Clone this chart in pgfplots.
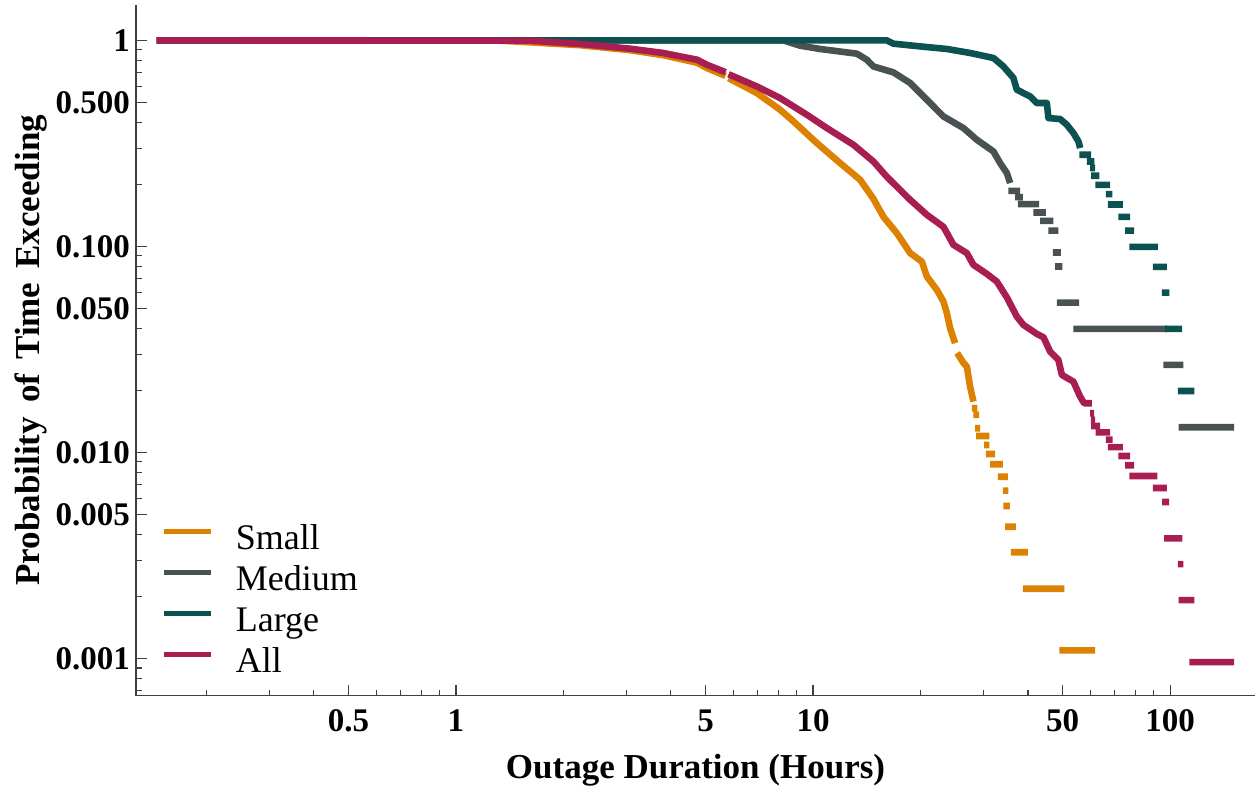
\documentclass[border=0pt]{standalone}
\usepackage{fontspec}
\setmainfont{Liberation Serif}
\usepackage{pgfplots}
\pgfplotsset{compat=1.18}

\definecolor{cSmall}{RGB}{220,129,0}
\definecolor{cMedium}{RGB}{72,82,82}
\definecolor{cLarge}{RGB}{12,82,80}
\definecolor{cAll}{RGB}{168,30,82}

\begin{document}
\begin{tikzpicture}
\useasboundingbox (-136pt,-96.3pt) rectangle (1121pt,695.7pt);
\begin{axis}[
  at={(0pt,0pt)}, anchor=south west,
  scale only axis, width=1119pt, height=691pt,
  xmode=log, ymode=log,
  xmin=0.127, xmax=173, ymin=0.00066, ymax=1.49,
  axis x line*=bottom, axis y line*=left,
  axis line style={line width=1.3pt, color=black!75},
  tick style={line width=1.1pt, color=black!75},
  tick align=inside,
  major tick length=11pt, minor tick length=6pt,
  xtick={0.5,1,5,10,50,100},
  xticklabels={0.5,1,5,10,50,100},
  minor xtick={0.2,0.3,0.4,0.6,0.7,0.8,0.9,2,3,4,6,7,8,9,20,30,40,60,70,80,90},
  ytick={0.001,0.005,0.01,0.05,0.1,0.5,1},
  yticklabels={0.001,0.005,0.010,0.050,0.100,0.500,1},
  minor ytick={0.0007,0.0008,0.0009,0.002,0.003,0.004,0.006,0.007,0.008,0.009,0.02,0.03,0.04,0.06,0.07,0.08,0.09,0.2,0.3,0.4,0.6,0.7,0.8,0.9},
  /pgf/number format/assume math mode=true,
  ticklabel style={font=\fontsize{33}{33}\selectfont\bfseries},
  xticklabel style={anchor=base, inner sep=0pt, yshift=-36pt},
  yticklabel style={anchor=east, inner sep=0pt, xshift=-6pt},
  xlabel={Outage Duration (Hours)},
  ylabel={Probability\hspace{0.4em}of\hspace{0.4em}Time\hspace{0.4em}Exceeding},
  label style={font=\fontsize{35}{35}\selectfont\bfseries},
  xlabel style={at={(axis description cs:0.5,-0.1191)}, anchor=base, inner sep=0pt},
  ylabel style={at={(axis description cs:-0.0858,0.5)}, anchor=base, inner sep=0pt},
  unbounded coords=jump,
  every axis plot/.append style={line width=6.6pt, line cap=butt, line join=round, mark=none},
  legend style={draw=none, fill=none, inner sep=0pt, outer sep=0pt,
    at={(axis description cs:0.0230,0.2495)}, anchor=north west,
    font=\fontsize{36}{36}\selectfont, row sep=8pt,
    nodes={inner sep=0pt, text height=26pt, text depth=7pt}},
  legend cell align=left,
  legend image code/.code={\draw[#1, line width=5.5pt] (0pt,8.5pt) -- (47pt,8.5pt); \path (68pt,8.5pt);},
]

% Small outages
\addplot[color=cSmall] coordinates {
 (0.145,1) (1.33,0.997) (2.227,0.9477) (3.074,0.8961) (3.803,0.8475)
 (4.736,0.7789) (5.041,0.7345) (5.69,0.6725) (nan,nan)
 (5.801,0.6555) (6.961,0.5553) (8.087,0.4607) (8.813,0.4043) (10.25,0.3175)
 (11.91,0.2538) (13.55,0.2107) (14.76,0.1703) (15.75,0.1392) (17.17,0.1160)
 (18.71,0.09278) (20.17,0.08449) (20.84,0.07142) (22.23,0.06152) (23.19,0.05399)
 (23.71,0.04743) (24.21,0.04009) (25.00,0.03392) (nan,nan)
 (25.33,0.03041) (26.38,0.02720) (26.97,0.02610) (27.54,0.02088) (28.14,0.01765) (nan,nan)
 (27.85,0.01639) (28.87,0.01639) (nan,nan)
 (28.14,0.01521) (29.19,0.01521) (nan,nan)
 (28.45,0.01311) (29.38,0.01311) (nan,nan)
 (28.64,0.01202) (31.20,0.01202) (nan,nan)
 (30.15,0.01087) (31.20,0.01087) (nan,nan)
 (30.48,0.009833) (32.36,0.009833) (nan,nan)
 (31.34,0.008764) (34.01,0.008764) (nan,nan)
 (32.94,0.007627) (35.13,0.007627) (nan,nan)
 (34.01,0.006524) (35.27,0.006524) (nan,nan)
 (34.14,0.005497) (35.59,0.005497) (nan,nan)
 (34.52,0.004360) (36.98,0.004360) (nan,nan)
 (35.83,0.003280) (39.97,0.003280) (nan,nan)
 (38.70,0.002181) (50.60,0.002181) (nan,nan)
 (48.99,0.001095) (61.68,0.001095)
};
\addlegendentry{Small}

% Medium outages
\addplot[color=cMedium] coordinates {
 (0.145,1) (8.262,1) (9.203,0.9425) (10.47,0.9083) (13.27,0.8619) (14.15,0.8056)
 (14.76,0.7474) (16.80,0.6993) (18.71,0.6211) (20.84,0.5152) (23.19,0.4274)
 (26.38,0.3755) (28.76,0.3294) (32.02,0.2890) (33.43,0.2538) (34.91,0.2270)
 (35.66,0.2030) (nan,nan)
 (35.27,0.1862) (38.03,0.1862) (nan,nan)
 (36.83,0.1735) (38.70,0.1735) (nan,nan)
 (37.48,0.1605) (42.98,0.1605) (nan,nan)
 (41.43,0.1461) (44.88,0.1461) (nan,nan)
 (43.26,0.1331) (47.14,0.1331) (nan,nan)
 (45.64,0.1194) (48.67,0.1194) (nan,nan)
 (46.96,0.09341) (49.43,0.09341) (nan,nan)
 (47.66,0.07988) (49.95,0.07988) (nan,nan)
 (48.18,0.05339) (55.65,0.05339) (nan,nan)
 (53.63,0.03980) (97.95,0.03980) (nan,nan)
 (95.83,0.02661) (109.0,0.02661) (nan,nan)
 (105.6,0.01326) (151.2,0.01326)
};
\addlegendentry{Medium}

% Large outages
\addplot[color=cLarge] coordinates {
 (0.145,1) (16.10,1) (16.80,0.9638) (19.95,0.9351) (23.71,0.9083) (27.54,0.8687)
 (32.02,0.8214) (34.14,0.7474) (36.42,0.6569) (37.23,0.5762) (40.56,0.5346)
 (42.36,0.4966) (45.17,0.4966) (45.64,0.4198) (49.21,0.4152) (51.38,0.3896)
 (53.63,0.3550) (55.39,0.3232) (56.00,0.3002) (nan,nan)
 (55.74,0.2785) (60.12,0.2785) (nan,nan)
 (58.47,0.2584) (61.40,0.2584) (nan,nan)
 (59.74,0.2401) (61.68,0.2401) (nan,nan)
 (60.12,0.2203) (63.41,0.2203) (nan,nan)
 (61.80,0.1991) (67.97,0.1991) (nan,nan)
 (66.11,0.1795) (68.98,0.1795) (nan,nan)
 (66.97,0.1598) (73.77,0.1598) (nan,nan)
 (71.71,0.1392) (77.31,0.1392) (nan,nan)
 (74.86,0.1194) (79.33,0.1194) (nan,nan)
 (76.97,0.09956) (92.43,0.09956) (nan,nan)
 (89.49,0.07961) (97.95,0.07961) (nan,nan)
 (94.84,0.05971) (99.61,0.05971) (nan,nan)
 (96.90,0.03980) (108.1,0.03980) (nan,nan)
 (105.1,0.01989) (117.0,0.01989)
};
\addlegendentry{Large}

% All outages
\addplot[color=cAll] coordinates {
 (0.145,1) (1.613,0.9966) (2.227,0.9605) (3.074,0.9113) (3.803,0.8687)
 (4.736,0.8056) (5.041,0.7620) (5.69,0.7006) (nan,nan)
 (5.801,0.6850) (6.961,0.5977) (8.087,0.5251) (9.609,0.4356) (10.93,0.3755)
 (12.98,0.3114) (14.76,0.2584) (16.10,0.2178) (18.71,0.1684) (20.84,0.1424)
 (23.19,0.1245) (24.74,0.1018) (26.97,0.09278) (28.14,0.08138) (30.68,0.07359)
 (32.72,0.06753) (34.91,0.05660) (37.23,0.04566) (38.85,0.04161) (42.36,0.03763)
 (44.20,0.03627) (46.15,0.03086) (48.67,0.02813) (49.77,0.02379) (53.63,0.02207)
 (56.00,0.01866) (57.46,0.01734) (60.39,0.01734) (nan,nan)
 (59.74,0.01550) (61.29,0.01550) (nan,nan)
 (60.00,0.01438) (61.68,0.01438) (nan,nan)
 (60.12,0.01345) (63.70,0.01345) (nan,nan)
 (61.88,0.01251) (67.97,0.01251) (nan,nan)
 (66.11,0.01154) (69.07,0.01154) (nan,nan)
 (66.97,0.01061) (73.77,0.01061) (nan,nan)
 (71.71,0.009616) (77.31,0.009616) (nan,nan)
 (74.86,0.008667) (79.33,0.008667) (nan,nan)
 (76.97,0.007687) (92.19,0.007687) (nan,nan)
 (89.49,0.006723) (97.95,0.006723) (nan,nan)
 (95.04,0.005749) (99.43,0.005749) (nan,nan)
 (96.27,0.003832) (108.3,0.003832) (nan,nan)
 (105.1,0.002874) (109.0,0.002874) (nan,nan)
 (105.6,0.001921) (117.0,0.001921) (nan,nan)
 (113.3,0.000960) (151.2,0.000960)
};
\addlegendentry{All}

\end{axis}
\end{tikzpicture}
\end{document}
